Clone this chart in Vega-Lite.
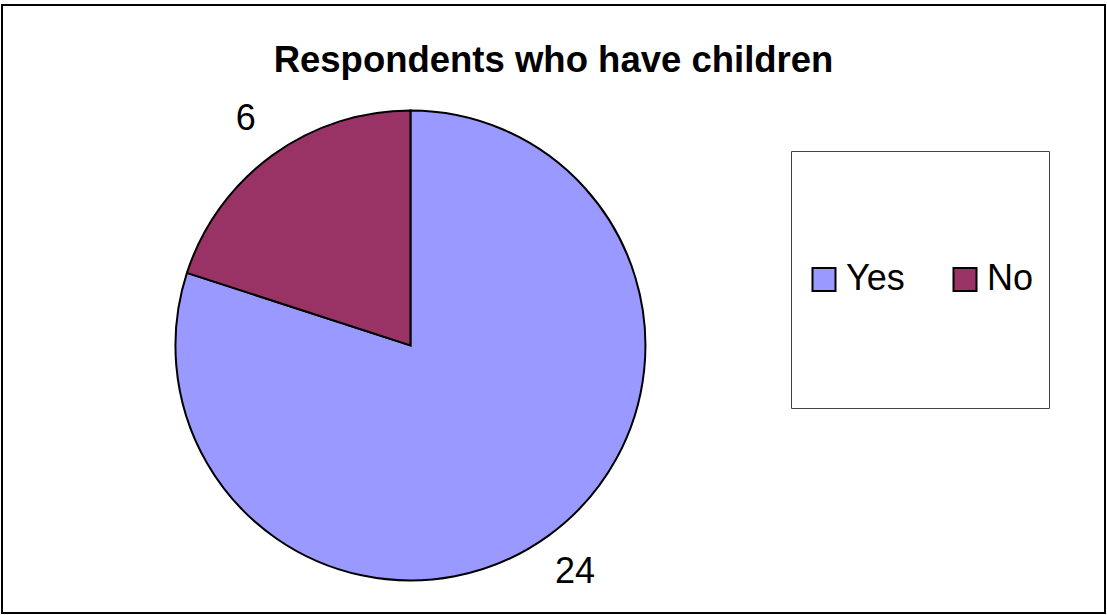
{
  "$schema": "https://vega.github.io/schema/vega-lite/v6.json",
  "autosize": {"type": "fit", "contains": "padding"},
  "width": 1107,
  "height": 615,
  "padding": {"left": 2, "top": 5, "right": 2, "bottom": 2},
  "background": "white",
  "view": {"stroke": "black", "strokeWidth": 2, "fill": "white"},
  "title": {
    "text": "Respondents who have children",
    "font": "Liberation Sans",
    "fontSize": 36.5,
    "fontWeight": "bold",
    "color": "black",
    "anchor": "middle",
    "frame": "group",
    "baseline": "alphabetic",
    "offset": -103
  },
  "data": {
    "values": [
      {"answer": "Yes", "count": 24, "idx": 1},
      {"answer": "No", "count": 6, "idx": 2}
    ]
  },
  "encoding": {
    "theta": {"field": "count", "type": "quantitative", "stack": true},
    "order": {"field": "idx", "type": "quantitative"}
  },
  "layer": [
    {
      "mark": {
        "type": "arc",
        "outerRadius": 235,
        "stroke": "black",
        "strokeWidth": 2,
        "x": {"expr": "width * 0.3703"},
        "y": {"expr": "height * 0.56"}
      },
      "encoding": {
        "color": {
          "field": "answer",
          "type": "nominal",
          "scale": {"domain": ["Yes", "No"], "range": ["#9999FF", "#993366"]},
          "legend": {
            "orient": "none",
            "legendX": 789,
            "legendY": 146,
            "direction": "horizontal",
            "columns": 2,
            "title": " ",
            "titleFontSize": 1,
            "titlePadding": 94,
            "padding": 15,
            "strokeColor": "#444444",
            "fillColor": "white",
            "symbolType": "M-1,-1H1V1H-1Z M0,9.48",
            "symbolSize": 529,
            "symbolStrokeColor": "black",
            "symbolStrokeWidth": 2,
            "symbolOpacity": 1,
            "labelFont": "Liberation Sans",
            "labelFontSize": 36,
            "labelColor": "black",
            "labelOffset": 4,
            "labelLimit": 300,
            "columnPadding": 42
          }
        }
      }
    },
    {
      "mark": {
        "type": "text",
        "radius": 280,
        "font": "Liberation Sans",
        "fontSize": 36,
        "align": "center",
        "baseline": "middle",
        "x": {"expr": "width * 0.3703"},
        "y": {"expr": "height * 0.56"}
      },
      "encoding": {
        "text": {"field": "count", "type": "quantitative"},
        "color": {"value": "black"}
      }
    }
  ],
  "config": {
    "view": {"stroke": "black", "strokeWidth": 2},
    "style": {"view": {"stroke": "black", "strokeWidth": 2}}
  }
}
